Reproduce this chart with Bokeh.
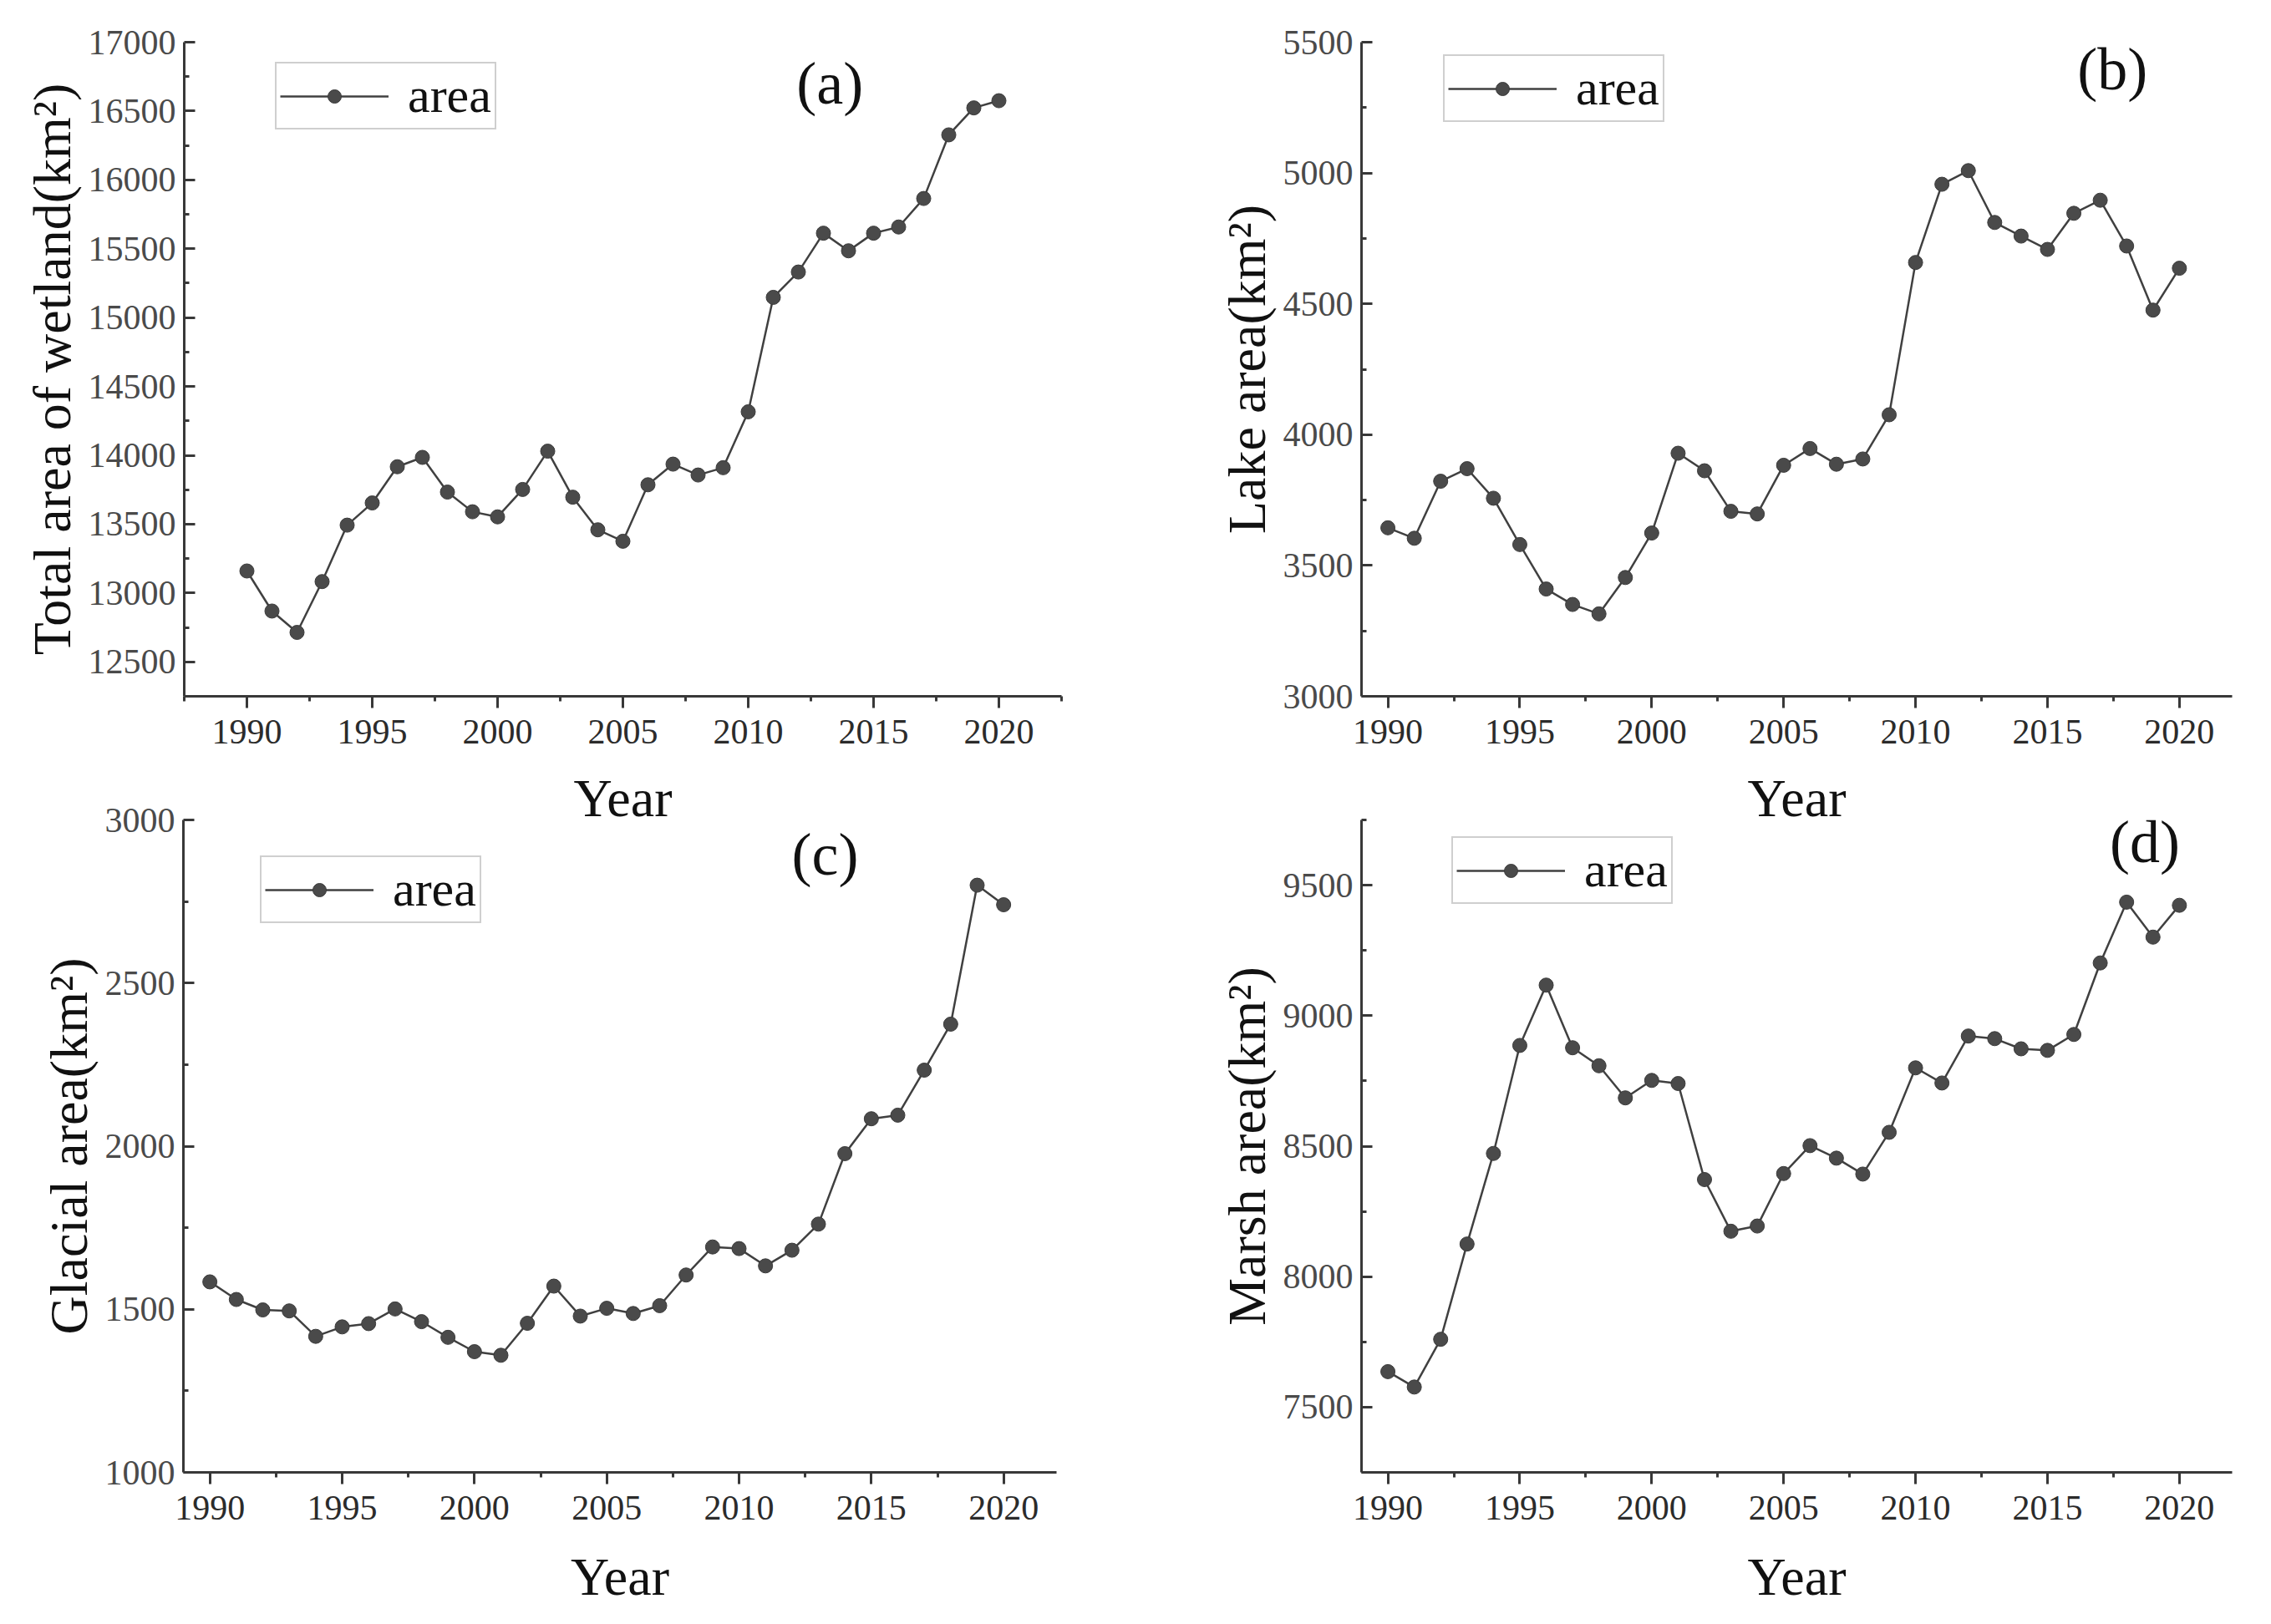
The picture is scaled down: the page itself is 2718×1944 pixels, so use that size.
from bokeh.plotting import figure
from bokeh.models import FixedTicker, Label, Legend, LegendItem, Range1d
from bokeh.layouts import column, row
from bokeh.embed import file_html
from bokeh.resources import INLINE

years = list(range(1990, 2021))

total_wetland = [13160, 12869, 12714, 13083, 13493, 13654, 13917, 13985, 13733, 13590,
                 13553, 13752, 14030, 13696, 13459, 13376, 13786, 13936, 13857, 13910,
                 14316, 15147, 15331, 15613, 15485, 15613, 15658, 15865, 16327, 16523,
                 16575]
lake = [3644, 3604, 3822, 3870, 3757, 3580, 3410, 3351, 3315, 3454,
        3624, 3929, 3862, 3707, 3697, 3883, 3947, 3887, 3907, 4076,
        4658, 4957, 5009, 4811, 4759, 4708, 4846, 4896, 4721, 4476,
        4636]
glacial = [1584, 1530, 1498, 1495, 1417, 1446, 1456, 1501, 1462, 1414,
           1370, 1359, 1457, 1571, 1479, 1503, 1487, 1511, 1605, 1691,
           1686, 1633, 1681, 1761, 1977, 2084, 2095, 2233, 2374, 2800,
           2740]
marsh = [7636, 7577, 7760, 8125, 8472, 8886, 9117, 8877, 8808, 8685,
         8752, 8740, 8372, 8174, 8194, 8395, 8502, 8454, 8393, 8553,
         8800, 8742, 8922, 8912, 8873, 8867, 8928, 9202, 9435, 9301,
         9423]

x_major = [1990, 1995, 2000, 2005, 2010, 2015, 2020]
x_minor = [1987.5, 1992.5, 1997.5, 2002.5, 2007.5, 2012.5, 2017.5, 2022.5]

SERIF = "Liberation Serif"
LINE_COL = "#404040"
MARK_COL = "#4a4a4a"


def panel(values, ylabel, tag, xr, yr, yticks, yminor, fw, fh, bl, br, bt, bb,
          leg_loc, tag_frac, year_standoff):
    p = figure(frame_width=fw, frame_height=fh,
               x_range=Range1d(*xr), y_range=Range1d(*yr),
               output_backend="svg", toolbar_location=None,
               min_border_left=bl, min_border_right=br,
               min_border_top=bt, min_border_bottom=bb)
    p.border_fill_color = None
    p.background_fill_color = None
    p.outline_line_color = None
    p.xgrid.visible = False
    p.ygrid.visible = False

    lr = p.line(years, values, line_color=LINE_COL, line_width=2.5)
    sr = p.scatter(years, values, marker="circle", size=17,
                   fill_color=MARK_COL, line_color="#3a3a3a", line_width=1)

    xa = p.xaxis[0]
    xa.ticker = FixedTicker(ticks=x_major, minor_ticks=x_minor)
    xa.axis_label = "Year"
    xa.axis_label_text_font = SERIF
    xa.axis_label_text_font_size = "64px"
    xa.axis_label_text_font_style = "normal"
    xa.axis_label_text_color = "#111111"
    xa.axis_label_standoff = year_standoff
    xa.major_label_text_font = SERIF
    xa.major_label_text_font_size = "42px"
    xa.major_label_text_color = "#2b2b2b"
    xa.major_label_standoff = 14
    xa.axis_line_color = "#383838"
    xa.axis_line_width = 3
    xa.major_tick_line_color = "#383838"
    xa.major_tick_line_width = 3
    xa.major_tick_in = 0
    xa.major_tick_out = 14
    xa.minor_tick_line_color = "#383838"
    xa.minor_tick_line_width = 3
    xa.minor_tick_in = 0
    xa.minor_tick_out = 6

    ya = p.yaxis[0]
    ya.ticker = FixedTicker(ticks=yticks, minor_ticks=yminor)
    ya.axis_label = ylabel
    ya.axis_label_text_font = SERIF
    ya.axis_label_text_font_size = "64px"
    ya.axis_label_text_font_style = "normal"
    ya.axis_label_text_color = "#111111"
    ya.axis_label_standoff = 5
    ya.major_label_text_font = SERIF
    ya.major_label_text_font_size = "42px"
    ya.major_label_text_color = "#4a4a4a"
    ya.major_label_standoff = 10
    ya.axis_line_color = "#383838"
    ya.axis_line_width = 3
    ya.major_tick_line_color = "#383838"
    ya.major_tick_line_width = 3
    ya.major_tick_in = 13
    ya.major_tick_out = 0
    ya.minor_tick_line_color = "#383838"
    ya.minor_tick_line_width = 3
    ya.minor_tick_in = 6
    ya.minor_tick_out = 0

    leg = Legend(items=[LegendItem(label="area", renderers=[lr, sr])],
                 location=leg_loc)
    leg.border_line_color = "#a0a0a0"
    leg.border_line_width = 2
    leg.padding = 4
    leg.spacing = 0
    leg.margin = 0
    leg.glyph_width = 130
    leg.glyph_height = 40
    leg.label_standoff = 23
    leg.label_text_font = SERIF
    leg.label_text_font_size = "60px"
    leg.label_text_color = "#111111"
    leg.background_fill_color = "white"
    leg.background_fill_alpha = 1.0
    p.add_layout(leg)

    tx = xr[0] + tag_frac[0] * (xr[1] - xr[0])
    ty = yr[0] + tag_frac[1] * (yr[1] - yr[0])
    p.add_layout(Label(x=tx, y=ty, text=tag, text_font=SERIF,
                       text_font_size="72px", text_color="#111111",
                       text_align="center", text_baseline="middle"))
    return p


pa = panel(total_wetland, "Total area of wetland(km\u00b2)", "(a)",
           (1987.5, 2022.5), (12250, 17000),
           list(range(12500, 17001, 500)), list(range(12250, 17001, 500)),
           1050, 783, 212, 130, 42, 180, (109, 678), (0.736, 0.937), 27)
pb = panel(lake, "Lake area(km\u00b2)", "(b)",
           (1989, 2022), (3000, 5500),
           list(range(3000, 5501, 500)), list(range(3250, 5500, 500)),
           1042, 783, 229, 39, 42, 180, (98, 687), (0.8625, 0.958), 27)
pc = panel(glacial, "Glacial area(km\u00b2)", "(c)",
           (1989, 2022), (1000, 3000),
           list(range(1000, 3001, 500)), list(range(1250, 3000, 500)),
           1045, 781, 211, 136, 40, 180, (92, 657), (0.735, 0.9465), 30)
pd = panel(marsh, "Marsh area(km\u00b2)", "(d)",
           (1989, 2022), (7250, 9750),
           list(range(7500, 9501, 500)), list(range(7250, 9751, 500)),
           1042, 781, 229, 39, 40, 180, (108, 680), (0.8996, 0.9655), 30)

top = row(pa, pb)
bottom = row(pc, pd, margin=(-72, 0, 0, 0))
layout = column(top, bottom, margin=(8, 0, 0, 8))

open("out.html", "w").write(file_html(layout, INLINE))
